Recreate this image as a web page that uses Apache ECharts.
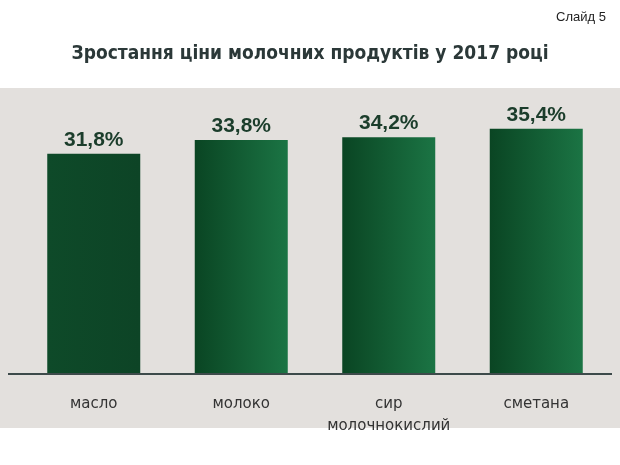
<!DOCTYPE html>
<html><head><meta charset="utf-8">
<script src="https://cdn.jsdelivr.net/npm/echarts@6/dist/echarts.min.js"></script>
<style>html,body{margin:0;padding:0;background:#fff}#c{width:620px;height:465px}</style>
</head><body><div id="c"></div>
<script>
const categories = ['масло', 'молоко', 'сир\nмолочнокислий', 'сметана'];
const values = [31.8, 33.8, 34.2, 35.4];
const valueLabels = ['31,8%', '33,8%', '34,2%', '35,4%'];
const title = 'Зростання ціни молочних продуктів у 2017 році';
const slide = 'Слайд 5';

const gradients = [
  ['#0e4a29', '#0d4426'],
  ['#0a4523', '#1b7444'],
  ['#0a4523', '#1b7444'],
  ['#0a4523', '#1b7444']
];

const chart = echarts.init(document.getElementById('c'));
chart.setOption({
  backgroundColor: '#ffffff',
  animation: false,
  title: [
    { text: title, left: 'center', top: 40,
      textStyle: { fontFamily: 'DejaVu Sans Condensed', fontWeight: 'bold', fontSize: 19, color: '#2b3838' } },
    { text: slide, right: 9, top: 6,
      textStyle: { fontFamily: 'Liberation Sans', fontWeight: 'normal', fontSize: 13, color: '#222' } }
  ],
  graphic: [
    { type: 'rect', z: -10, shape: { x: 0, y: 88, width: 620, height: 340 }, style: { fill: '#e3e0dd' } },
    { type: 'line', z: 10, shape: { x1: 8, y1: 374, x2: 612, y2: 374 }, style: { stroke: '#3d4a4a', lineWidth: 2 } }
  ],
  grid: { left: 20, right: 10, top: 97, bottom: 91 },
  xAxis: {
    type: 'category', data: categories,
    axisLine: { show: false }, axisTick: { show: false },
    axisLabel: { interval: 0, fontFamily: 'DejaVu Sans', fontSize: 15, color: '#333', margin: 19, lineHeight: 22 }
  },
  yAxis: { type: 'value', min: 0, max: 40, show: false, splitLine: { show: false } },
  series: [{
    type: 'bar', barWidth: 93,
    data: values.map((v, i) => ({
      value: v,
      itemStyle: { color: new echarts.graphic.LinearGradient(0, 0, 1, 0, [
        { offset: 0, color: gradients[i][0] }, { offset: 1, color: gradients[i][1] }]) }
    })),
    label: {
      show: true, position: 'top', distance: 3,
      formatter: p => valueLabels[p.dataIndex],
      fontFamily: 'Liberation Sans', fontWeight: 'bold', fontSize: 21, color: '#1b3d2b'
    }
  }]
});
</script></body></html>
